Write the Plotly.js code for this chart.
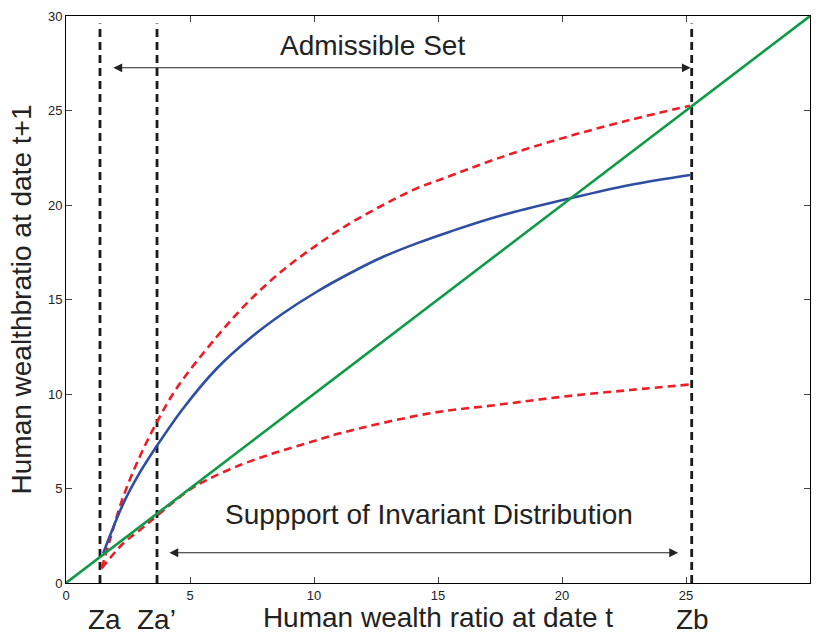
<!DOCTYPE html>
<html>
<head>
<meta charset="utf-8">
<script src="https://cdn.plot.ly/plotly-3.0.1.min.js"></script>
<style>html,body{margin:0;padding:0;background:#fff;}#chart{width:816px;height:633px;}</style>
</head>
<body>
<div id="chart"></div>
<script>
// 45-degree line
const diagX = [0, 30];
const diagY = [0, 30];
// central map (blue)
const blueX = [1.5, 2.31, 2.98, 3.66, 4.73, 6.08, 7.42, 8.76, 10.11, 11.45, 12.79, 14.14, 15.48, 17.37, 20.32, 22.74, 25.16];
const blueY = [1.57, 4.2, 5.85, 7.25, 9.25, 11.35, 12.95, 14.27, 15.41, 16.39, 17.26, 17.97, 18.59, 19.38, 20.35, 21.06, 21.59];
// upper bound map (red dashed)
const redUpX = [1.44, 1.77, 2.31, 2.98, 3.66, 4.46, 6.08, 7.42, 8.76, 10.11, 11.45, 12.79, 14.14, 15.21, 17.37, 20.05, 22.74, 25.16];
const redUpY = [0.78, 2.28, 4.57, 6.7, 8.5, 10.3, 13.03, 14.97, 16.56, 17.88, 19.03, 20.0, 20.88, 21.4, 22.45, 23.55, 24.5, 25.25];
// lower bound map (red dashed)
const redLoX = [1.44, 2.31, 2.98, 3.66, 5.0, 5.67, 7.02, 8.36, 9.7, 11.05, 14.68, 17.37, 20.05, 22.74, 25.16];
const redLoY = [0.78, 2.1, 2.8, 3.55, 4.95, 5.45, 6.24, 6.86, 7.39, 7.92, 8.98, 9.42, 9.86, 10.21, 10.5];
// vertical markers
const markX = [1.37, 3.67, 25.23];
const markLabels = ['Za', 'Za\u2019', 'Zb'];
const markLabelX = [1.55, 3.65, 25.25];
const markTop = 29.6;
// ranges (arrows)
const admissible = {from: 1.85, to: 25.19, y: 27.26, label: 'Admissible Set', labelX: 12.34, labelY: 28.45};
const support = {from: 4.11, to: 24.68, y: 1.6, label: 'Suppport of Invariant Distribution', labelX: 14.65, labelY: 3.62};
const xTicks = [0, 5, 10, 15, 20, 25, 30];
const yTicks = [0, 5, 10, 15, 20, 25, 30];

const FONT = 'Liberation Sans, Arial, Helvetica, sans-serif';
const traces = [];
markX.forEach(function (mx) {
  traces.push({x: [mx, mx], y: [0, markTop], mode: 'lines', line: {color: '#1a1a1a', width: 2.8, dash: '8px,5px'}, hoverinfo: 'skip'});
});
traces.push({x: redUpX, y: redUpY, mode: 'lines', line: {color: '#ee1c25', width: 2.6, dash: '8px,5px', shape: 'spline', smoothing: 1}});
traces.push({x: redLoX, y: redLoY, mode: 'lines', line: {color: '#ee1c25', width: 2.6, dash: '8px,5px', shape: 'spline', smoothing: 1}});
traces.push({x: blueX, y: blueY, mode: 'lines', line: {color: '#2e4ea3', width: 2.6, shape: 'spline', smoothing: 1}});
traces.push({x: diagX, y: diagY, mode: 'lines', line: {color: '#0f9a48', width: 2.6}});

const ann = [];
[admissible, support].forEach(function (r) {
  ann.push({x: r.to, y: r.y, ax: r.from, ay: r.y, xref: 'x', yref: 'y', axref: 'x', ayref: 'y', text: '', showarrow: true,
    arrowhead: 2, startarrowhead: 2, arrowside: 'end+start', arrowsize: 1.6, startarrowsize: 1.6, arrowwidth: 1.1, arrowcolor: '#222', standoff: 0, startstandoff: 0});
  ann.push({x: r.labelX, y: r.labelY, xref: 'x', yref: 'y', text: r.label, showarrow: false, xanchor: 'center', yanchor: 'middle',
    font: {family: FONT, size: 28, color: '#222'}});
});
markLabels.forEach(function (t, i) {
  ann.push({x: markLabelX[i], y: -0.0635, xref: 'x', yref: 'paper', text: t, showarrow: false, xanchor: 'center', yanchor: 'middle',
    height: 28, borderpad: 0, font: {family: FONT, size: 28, color: '#222'}});
});

const axisCommon = {
  range: [0, 30], showgrid: false, zeroline: false, showline: true, linecolor: '#000', linewidth: 1,
  mirror: 'ticks', ticks: 'inside', ticklen: 6, tickcolor: '#444', tickwidth: 1,
  tickfont: {family: FONT, size: 13, color: '#222'}
};
const layout = {
  width: 816, height: 633,
  margin: {l: 66, r: 6, t: 16, b: 50},
  paper_bgcolor: '#fff', plot_bgcolor: '#fff',
  showlegend: false,
  xaxis: Object.assign({}, axisCommon, {tickvals: xTicks, ticktext: xTicks.map(String),
    title: {text: 'Human wealth ratio at date t', font: {family: FONT, size: 28, color: '#222'}, standoff: 4}}),
  yaxis: Object.assign({}, axisCommon, {tickvals: yTicks, ticktext: yTicks.map(String),
    title: {text: 'Human wealthbratio at date t+1', font: {family: FONT, size: 28, color: '#222'}, standoff: 8}}),
  annotations: ann
};
Plotly.newPlot('chart', traces, layout, {displayModeBar: false, staticPlot: true});
</script>
</body>
</html>
